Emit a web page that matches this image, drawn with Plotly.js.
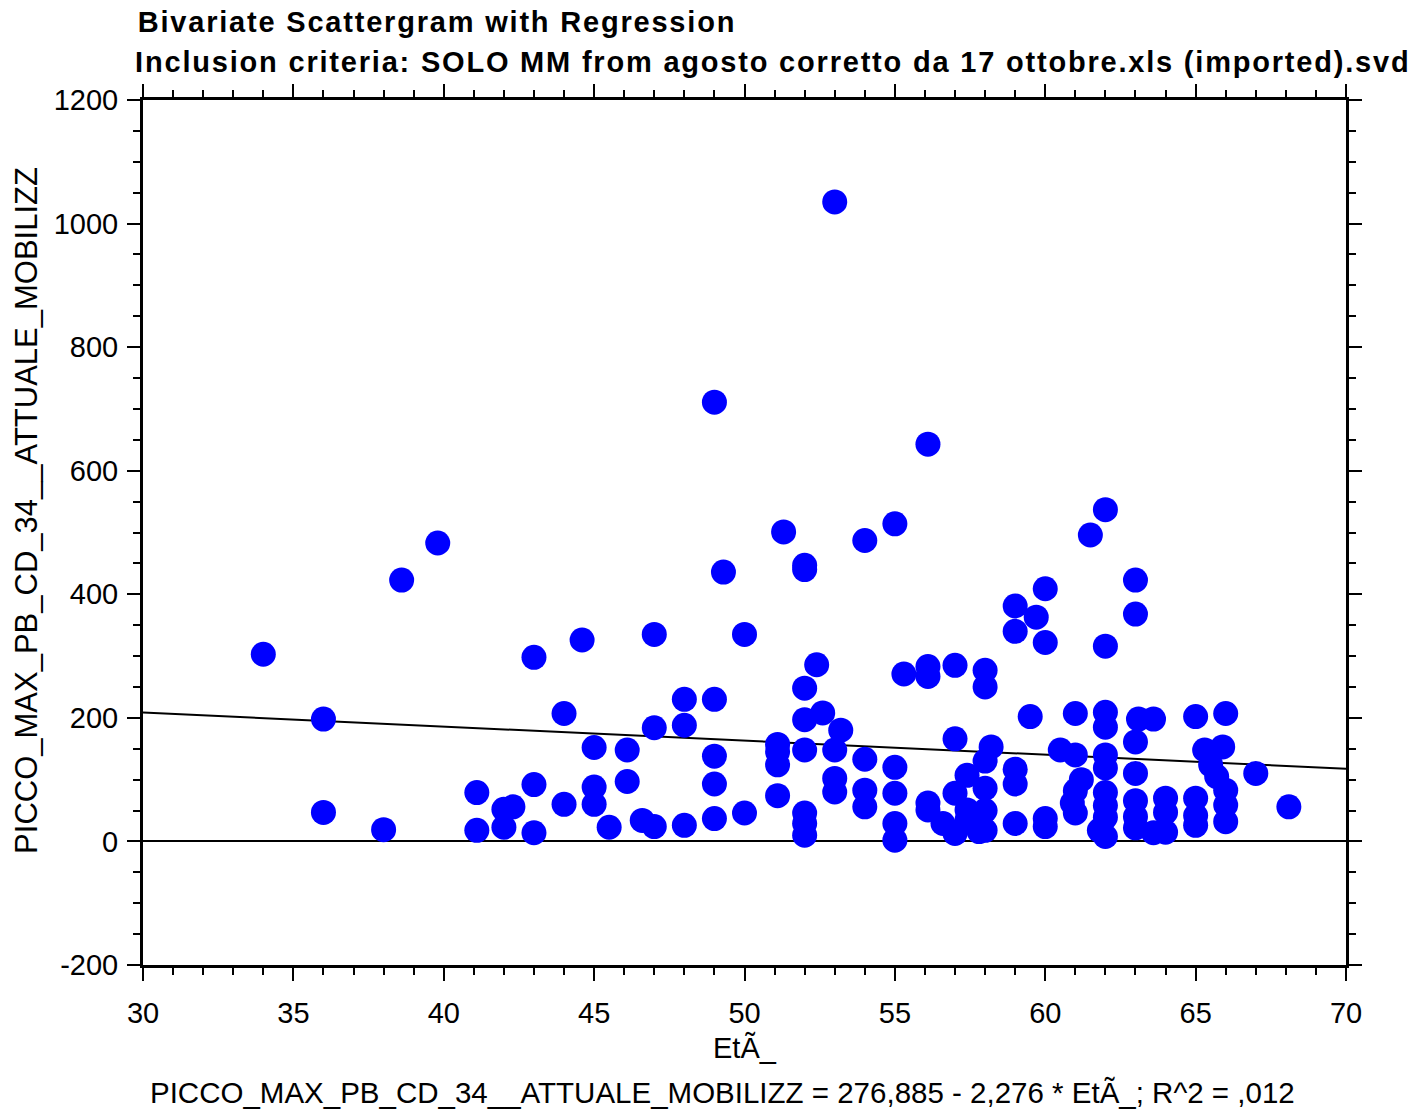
<!DOCTYPE html>
<html>
<head>
<meta charset="utf-8">
<script src="https://cdn.plot.ly/plotly-3.0.1.min.js"></script>
<style>
  html, body { margin: 0; padding: 0; background: #ffffff; }
  #chart { width: 1417px; height: 1112px; }
</style>
</head>
<body>
<div id="chart"></div>
<script>
// Age (EtÃ_) of each patient
const eta = [
  34.0, 36.0, 36.0, 38.0, 38.6, 39.8, 41.1, 41.1, 42.0, 42.3,
  42.0, 43.0, 43.0, 43.0, 44.0, 44.0, 44.6, 45.0, 45.0, 45.0,
  45.5, 46.1, 46.1, 46.6, 47.0, 47.0, 47.0, 48.0, 48.0, 48.0,
  49.0, 49.0, 49.0, 49.0, 49.0, 49.3, 50.0, 50.0, 51.1, 51.1,
  51.1, 51.1, 51.3, 52.0, 52.0, 52.0, 52.0, 52.6, 52.4, 52.0,
  52.0, 52.0, 52.0, 53.0, 53.2, 53.0, 53.0, 53.0, 54.0, 54.0,
  54.0, 54.0, 55.0, 55.3, 55.0, 55.0, 55.0, 55.0, 56.1, 56.1,
  56.1, 56.1, 56.1, 56.6, 57.0, 57.0, 57.0, 57.0, 57.4, 57.4,
  57.4, 57.8, 58.0, 58.0, 58.2, 58.0, 58.0, 58.0, 58.0, 59.0,
  59.0, 59.7, 59.5, 59.0, 59.0, 59.0, 60.0, 60.0, 60.5, 60.0,
  60.0, 61.5, 61.0, 61.0, 61.2, 61.0, 60.9, 61.0, 62.0, 62.0,
  62.0, 62.0, 62.0, 62.0, 62.0, 62.0, 62.0, 61.8, 62.0, 63.0,
  63.0, 63.1, 63.6, 63.0, 63.0, 63.0, 63.0, 63.0, 63.6, 64.0,
  64.0, 64.0, 65.0, 65.3, 65.0, 65.0, 65.0, 65.9, 65.5, 65.7,
  66.0, 66.0, 66.0, 66.0, 67.0, 68.1
];

// PICCO_MAX_PB_CD_34__ATTUALE_MOBILIZZ for the same patients
const picco = [
  303, 198, 47, 19, 423, 483, 79, 18, 52, 56,
  23, 298, 92, 14, 207, 60, 326, 152, 88, 60,
  23, 148, 97, 34, 335, 184, 24, 230, 188, 26,
  711, 230, 138, 93, 37, 436, 335, 46, 157, 145,
  124, 74, 501, 447, 440, 248, 197, 208, 286, 148,
  46, 29, 10, 1035, 180, 148, 102, 80, 487, 133,
  83, 56, 514, 271, 120, 78, 29, 2, 643, 283,
  267, 62, 51, 29, 285, 166, 78, 13, 107, 51,
  35, 16, 277, 250, 153, 130, 86, 50, 18, 381,
  340, 363, 202, 117, 93, 29, 409, 322, 148, 37,
  24, 496, 207, 140, 100, 82, 62, 46, 537, 316,
  209, 185, 140, 119, 79, 58, 39, 18, 8, 423,
  368, 198, 198, 161, 110, 66, 40, 22, 14, 70,
  47, 15, 202, 148, 70, 42, 26, 153, 124, 105,
  207, 83, 59, 32, 110, 56
];

// Least-squares fit reported under the chart
const intercept = 276.885;
const slope = -2.276;
const rSquared = ',012';
const fitX = [30, 70];
const fitY = fitX.map(v => intercept + slope * v);

// Axis ticks and their labels
const xTicks = [30, 35, 40, 45, 50, 55, 60, 65, 70];
const xTickText = ['30', '35', '40', '45', '50', '55', '60', '65', '70'];
const yTicks = [-200, 0, 200, 400, 600, 800, 1000, 1200];
const yTickText = ['-200', '0', '200', '400', '600', '800', '1000', '1200'];

const titleLines = [
  'Bivariate Scattergram with Regression',
  'Inclusion criteria: SOLO MM from agosto corretto da 17 ottobre.xls (imported).svd'
];
const xName = 'EtÃ_';
const yName = 'PICCO_MAX_PB_CD_34__ATTUALE_MOBILIZZ';
const equation = yName + ' = 276,885 - 2,276 * ' + xName + '; R^2 = ' + rSquared;

const FONT = '"Liberation Sans", Arial, sans-serif';

const traces = [
  {
    type: 'scatter', mode: 'lines', x: fitX, y: fitY,
    line: { color: '#000000', width: 2 }, hoverinfo: 'skip', showlegend: false
  },
  {
    type: 'scatter', mode: 'markers', x: eta, y: picco,
    marker: { color: '#0000ff', size: 25, line: { width: 0 } },
    showlegend: false
  }
];

const axisCommon = {
  showline: true, linecolor: '#000000', linewidth: 3,
  mirror: 'allticks', ticks: 'outside', ticklen: 13, tickwidth: 2, tickcolor: '#000000',
  showgrid: false, tickmode: 'array',
  tickfont: { family: FONT, size: 29, color: '#000000' }
};

const layout = {
  width: 1417, height: 1112,
  paper_bgcolor: '#ffffff', plot_bgcolor: '#ffffff',
  margin: { l: 143, r: 71, t: 100, b: 147 },
  font: { family: FONT, color: '#000000' },
  xaxis: Object.assign({}, axisCommon, {
    range: [30, 70], tickvals: xTicks, ticktext: xTickText, zeroline: false,
    minor: { tickmode: 'linear', tick0: 30, dtick: 1, ticks: 'outside', ticklen: 7, tickwidth: 2, tickcolor: '#000000' },
    ticklabelstandoff: 7
  }),
  yaxis: Object.assign({}, axisCommon, {
    range: [-200, 1200], tickvals: yTicks, ticktext: yTickText,
    zeroline: true, zerolinecolor: '#000000', zerolinewidth: 2,
    minor: { tickmode: 'linear', tick0: 0, dtick: 50, ticks: 'outside', ticklen: 7, tickwidth: 2, tickcolor: '#000000' },
    ticklabelstandoff: 3
  }),
  annotations: [
    {
      text: '<b>' + titleLines[0] + '</b>', xref: 'paper', yref: 'paper',
      x: 0.2444, y: 1.0902, xanchor: 'center', yanchor: 'middle', showarrow: false,
      font: { family: FONT, size: 29, color: '#000000' }
    },
    {
      text: '<b>' + titleLines[1] + '</b>', xref: 'paper', yref: 'paper',
      x: 0.524, y: 1.0439, xanchor: 'center', yanchor: 'middle', showarrow: false,
      font: { family: FONT, size: 29, color: '#000000' }
    },
    {
      text: xName, xref: 'paper', yref: 'paper',
      x: 0.5, y: -0.0955, xanchor: 'center', yanchor: 'middle', showarrow: false,
      font: { family: FONT, size: 29, color: '#000000' }
    },
    {
      text: yName, xref: 'paper', yref: 'paper', textangle: -90,
      x: -0.0964, y: 0.525, xanchor: 'center', yanchor: 'middle', showarrow: false,
      font: { family: FONT, size: 31, color: '#000000' }
    },
    {
      text: equation, xref: 'paper', yref: 'paper',
      x: 0.4813, y: -0.147, xanchor: 'center', yanchor: 'middle', showarrow: false,
      font: { family: FONT, size: 29.5, color: '#000000' }
    }
  ]
};

Plotly.newPlot('chart', traces, layout, { displayModeBar: false, staticPlot: true }).then(() => {
  // the two heading lines are set with wider letter spacing
  const heads = document.querySelectorAll('#chart .annotation');
  [0, 1].forEach(i => {
    const t = heads[i] && heads[i].querySelector('text');
    if (t) t.style.letterSpacing = '1.8px';
  });
});
</script>
</body>
</html>
